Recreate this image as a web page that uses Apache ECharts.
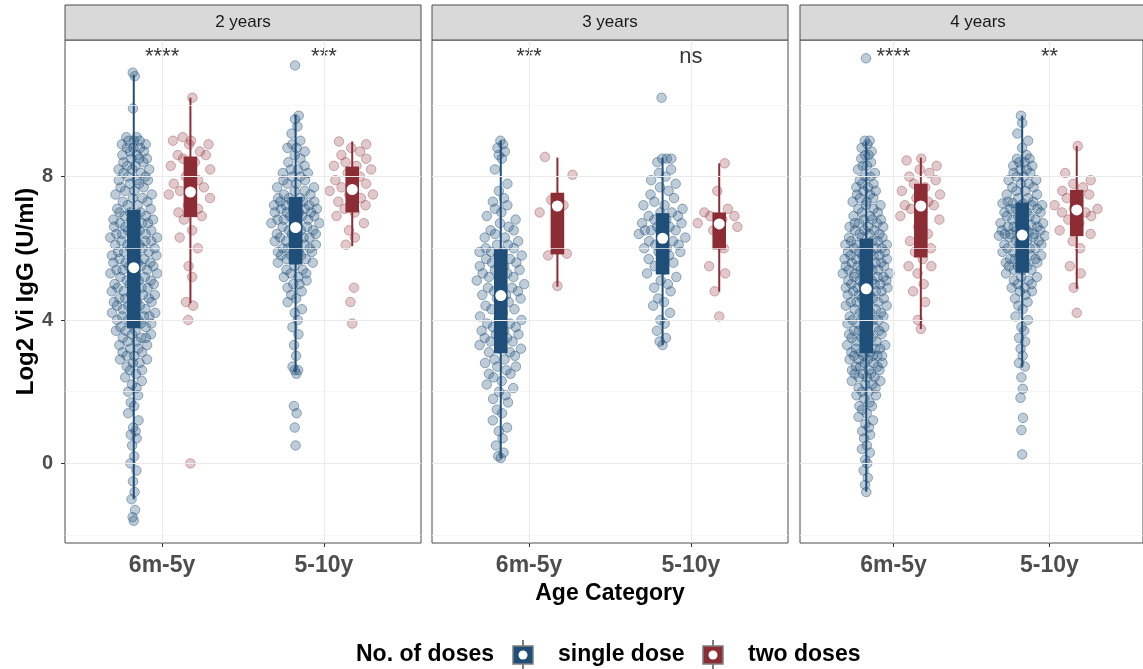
<!DOCTYPE html>
<html>
<head>
<meta charset="utf-8">
<script src="https://cdn.jsdelivr.net/npm/echarts@6/dist/echarts.min.js"></script>
<style>
html, body { margin: 0; padding: 0; background: #fff; }
#chart { width: 1143px; height: 669px; }
</style>
</head>
<body>
<div id="chart"></div>
<script>
// facets, categories, labels
var facets = ['2 years', '3 years', '4 years'];
var ageCats = ['6m-5y', '5-10y'];
var doseGroups = ['single dose', 'two doses'];
var sigLabels = [['****', '***'], ['***', 'ns'], ['****', '**']];
var yTicks = [0, 4, 8];

// Log2 Vi IgG values (one list per facet / age / dose)
var y2YoungSingle = [
  -1.6,-1.5,-1.3,-1.0,-0.8,-0.5,-0.2,0.0,0.2,0.5,0.7,0.8,0.9,1.0,1.2,1.4,1.6,1.7,1.9,2.0,
  2.1,2.2,2.3,2.4,2.5,2.6,2.6,2.7,2.8,2.8,2.9,2.9,3.0,3.0,3.1,3.1,3.2,3.2,3.3,3.3,
  3.4,3.4,3.5,3.5,3.5,3.6,3.6,3.7,3.7,3.7,
  3.8,3.8,3.9,3.9,3.9,4.0,4.0,4.0,4.1,4.1,4.1,4.2,4.2,4.2,4.3,4.3,4.3,4.4,4.4,4.4,
  4.5,4.5,4.5,4.6,4.6,4.6,4.7,4.7,4.7,4.8,4.8,4.8,4.9,4.9,4.9,5.0,5.0,5.0,5.1,5.1,
  5.1,5.2,5.2,5.2,5.3,5.3,5.3,5.4,5.4,5.4,
  5.5,5.5,5.5,5.6,5.6,5.6,5.6,5.7,5.7,5.7,5.8,5.8,5.8,5.9,5.9,5.9,6.0,6.0,6.0,6.1,
  6.1,6.1,6.2,6.2,6.2,6.3,6.3,6.3,6.3,6.4,6.4,6.4,6.5,6.5,6.5,6.6,6.6,6.6,6.7,6.7,
  6.7,6.8,6.8,6.8,6.9,6.9,6.9,7.0,7.0,7.0,
  7.1,7.1,7.2,7.2,7.3,7.3,7.4,7.4,7.5,7.5,7.6,7.6,7.7,7.7,7.8,7.8,7.9,7.9,8.0,8.0,
  8.1,8.1,8.2,8.2,8.3,8.3,8.4,8.4,8.5,8.5,8.6,8.6,8.7,8.7,8.8,8.8,8.9,8.9,9.0,9.0,
  9.1,9.1,9.0,8.8,8.5,8.2,7.9,9.9,10.8,10.9
];
var y2YoungTwo = [10.2,9.1,9.0,9.0,8.9,8.9,8.7,8.6,8.6,8.5,8.4,8.3,8.2,8.0,7.9,7.8,7.7,7.6,7.5,7.5,
  7.4,7.2,7.1,7.0,6.9,6.8,6.5,6.3,6.0,5.5,5.2,4.5,4.4,4.0,0.0];
var y2OldSingle = [
  0.5,1.0,1.4,1.6,2.5,2.6,2.6,2.7,3.0,3.3,3.6,3.8,4.0,4.2,4.3,4.5,4.6,4.7,4.8,4.9,
  5.0,5.0,5.1,5.2,5.2,5.3,5.3,5.4,5.4,5.5,
  5.6,5.6,5.7,5.7,5.7,5.8,5.8,5.8,5.9,5.9,5.9,6.0,6.0,6.0,6.1,6.1,6.1,6.2,6.2,6.2,
  6.3,6.3,6.3,6.4,6.4,6.4,6.5,6.5,6.5,6.6,
  6.6,6.6,6.7,6.7,6.7,6.8,6.8,6.8,6.9,6.9,6.9,7.0,7.0,7.0,7.0,7.1,7.1,7.1,7.1,7.2,
  7.2,7.2,7.2,7.3,7.3,7.3,7.3,7.4,7.4,7.4,
  7.5,7.5,7.6,7.6,7.7,7.7,7.8,7.8,7.9,7.9,8.0,8.0,8.1,8.1,8.2,8.2,8.3,8.4,8.5,8.6,
  8.7,8.8,8.8,8.9,9.0,9.2,9.4,9.6,9.7,11.1
];
var y2OldTwo = [8.98,8.9,8.8,8.7,8.6,8.5,8.4,8.3,8.3,8.2,8.1,8.0,7.9,7.8,7.7,7.7,7.6,7.5,7.5,7.4,
  7.3,7.2,7.1,7.0,6.9,6.7,6.5,6.3,6.1,4.9,4.5,3.9];

var y3YoungSingle = [
  0.15,0.2,0.3,0.5,0.7,0.9,1.0,1.2,1.4,1.5,1.7,1.8,1.9,2.0,2.1,2.2,2.3,2.4,2.5,2.5,
  2.6,2.7,2.7,2.8,2.9,2.9,3.0,
  3.1,3.1,3.2,3.2,3.3,3.3,3.4,3.4,3.5,3.5,3.6,3.6,3.7,3.7,3.8,3.8,3.9,3.9,4.0,4.0,
  4.1,4.2,4.3,4.3,4.4,4.5,4.6,4.6,
  4.7,4.7,4.8,4.8,4.9,4.9,5.0,5.0,5.1,5.1,5.2,5.2,5.3,5.3,5.4,5.4,5.5,5.5,5.6,5.6,
  5.7,5.7,5.8,5.8,5.9,5.9,5.9,6.0,
  6.0,6.1,6.1,6.2,6.3,6.3,6.4,6.5,6.5,6.6,6.7,6.8,6.9,7.0,7.1,7.2,7.3,7.4,7.6,7.8,
  8.2,8.5,8.6,8.7,8.8,8.9,9.0
];
var y3YoungTwo = [8.55,8.05,7.35,7.2,7.0,5.85,5.8,4.95];
var y3OldSingle = [
  3.3,3.4,3.5,3.7,3.9,4.0,4.2,4.4,4.5,4.6,4.8,4.9,5.0,5.1,5.2,5.3,
  5.4,5.5,5.6,5.7,5.8,5.9,5.9,6.0,6.0,6.1,6.1,6.2,6.2,6.3,6.3,6.4,
  6.4,6.5,6.5,6.5,6.6,6.6,6.7,6.7,6.8,6.8,6.9,6.9,7.0,7.0,7.1,7.2,
  7.2,7.3,7.4,7.5,7.6,7.7,7.8,7.9,8.0,8.1,8.2,8.4,8.5,8.5,8.5,10.2
];
var y3OldTwo = [8.37,7.6,7.1,7.0,6.9,6.9,6.8,6.7,6.6,6.5,6.0,5.5,5.3,4.8,4.1];

var y4YoungSingle = [
  -0.8,-0.6,-0.4,-0.2,0.0,0.1,0.3,0.4,0.5,0.7,0.8,0.9,1.0,1.1,1.2,1.3,1.4,1.5,1.6,1.6,
  1.7,1.8,1.9,1.9,2.0,2.0,2.1,2.1,2.2,2.2,2.3,2.3,2.4,2.4,2.4,2.5,2.5,2.5,2.6,2.6,
  2.6,2.7,2.7,2.7,2.8,2.8,2.8,2.9,2.9,2.9,3.0,3.0,3.0,3.0,3.0,
  3.1,3.1,3.1,3.2,3.2,3.2,3.3,3.3,3.3,3.4,3.4,3.4,3.5,3.5,3.5,3.6,3.6,3.6,3.7,3.7,
  3.7,3.8,3.8,3.8,3.9,3.9,3.9,4.0,4.0,4.0,4.1,4.1,4.1,4.2,4.2,4.2,4.3,4.3,4.3,4.4,
  4.4,4.4,4.5,4.5,4.5,4.6,4.6,4.6,4.7,4.7,4.7,4.8,4.8,4.8,4.85,
  4.9,4.9,4.9,4.9,5.0,5.0,5.0,5.0,5.1,5.1,5.1,5.1,5.2,5.2,5.2,5.2,5.3,5.3,5.3,5.3,
  5.4,5.4,5.4,5.4,5.5,5.5,5.5,5.5,5.6,5.6,5.6,5.6,5.7,5.7,5.7,5.7,5.8,5.8,5.8,5.8,
  5.9,5.9,5.9,5.9,6.0,6.0,6.0,6.0,6.1,6.1,6.1,6.1,6.2,6.2,6.2,
  6.3,6.3,6.3,6.4,6.4,6.4,6.5,6.5,6.5,6.6,6.6,6.6,6.7,6.7,6.7,6.8,6.8,6.8,6.9,6.9,
  7.0,7.0,7.1,7.1,7.2,7.2,7.3,7.3,7.4,7.4,7.5,7.5,7.6,7.6,7.7,7.7,7.8,7.8,7.9,8.0,
  8.0,8.1,8.2,8.3,8.3,8.4,8.5,8.6,8.6,8.7,8.8,8.9,9.0,9.0,11.3
];
var y4YoungTwo = [8.5,8.45,8.3,8.2,8.1,8.0,7.9,7.8,7.7,7.6,7.5,7.4,7.3,7.2,7.2,7.1,7.0,6.9,6.8,6.6,
  6.4,6.2,6.0,5.9,5.7,5.5,5.5,5.3,5.0,4.8,4.5,4.0,3.75];
var y4OldSingle = [
  0.25,0.93,1.27,1.83,2.08,2.4,2.7,2.8,3.0,3.2,3.4,3.5,3.7,3.8,4.0,4.1,4.3,4.4,4.5,4.6,
  4.7,4.8,4.8,4.9,4.9,5.0,5.0,5.1,5.1,5.2,5.2,5.3,
  5.4,5.4,5.4,5.5,5.5,5.5,5.6,5.6,5.6,5.7,5.7,5.7,5.8,5.8,5.8,5.9,5.9,5.9,6.0,6.0,
  6.0,6.1,6.1,6.1,6.2,6.2,6.2,6.3,6.3,6.3,6.35,6.35,6.36,
  6.4,6.4,6.4,6.5,6.5,6.5,6.6,6.6,6.6,6.7,6.7,6.7,6.8,6.8,6.8,6.9,6.9,6.9,7.0,7.0,
  7.0,7.1,7.1,7.1,7.2,7.2,7.2,7.25,7.25,7.26,6.45,6.55,6.65,
  7.3,7.3,7.4,7.4,7.5,7.5,7.6,7.6,7.7,7.7,7.8,7.8,7.9,7.9,8.0,8.0,8.1,8.1,8.2,8.2,
  8.3,8.3,8.4,8.4,8.5,8.5,8.6,8.8,9.0,9.2,9.5,9.7
];
var y4OldTwo = [8.85,8.1,7.9,7.8,7.7,7.6,7.5,7.4,7.3,7.2,7.1,7.1,7.0,7.0,6.9,6.8,6.7,6.5,6.4,6.2,
  6.0,5.5,5.3,4.9,4.2];

// box statistics per group, order: [6m-5y single, 6m-5y two, 5-10y single, 5-10y two] per facet
var whiskerLow  = [-1.0, 4.47, 2.54, 6.06,   0.14, 4.93, 3.3, 4.79,   -0.79, 3.75, 2.68, 4.87];
var boxQ1       = [3.77, 6.87, 5.55, 7.0,    3.07, 5.83, 5.27, 5.97,  3.07, 5.74, 5.32, 6.34];
var boxMedian   = [5.46, 7.57, 6.58, 7.64,   4.68, 7.18, 6.28, 6.68,  4.87, 7.18, 6.37, 7.07];
var boxQ3       = [7.07, 8.56, 7.43, 8.28,   5.97, 7.55, 6.98, 7.0,   6.27, 7.8, 7.27, 7.63];
var whiskerHigh = [10.84, 10.2, 9.72, 8.98,  9.0, 8.53, 8.53, 8.37,   8.98, 8.53, 9.7, 8.85];

var groupValues = [
  [y2YoungSingle, y2YoungTwo, y2OldSingle, y2OldTwo],
  [y3YoungSingle, y3YoungTwo, y3OldSingle, y3OldTwo],
  [y4YoungSingle, y4YoungTwo, y4OldSingle, y4OldTwo]
];

var FONT = "'Liberation Sans', Arial, sans-serif";
var doseColors = ['#1f4e79', '#8c2d35'];
var pointFill = ['rgba(31,78,121,0.36)', 'rgba(140,45,53,0.32)'];
var pointEdge = ['rgba(31,78,121,0.55)', 'rgba(140,45,53,0.45)'];
var panelLeft = [65, 432, 800];
var panelW = 356, panelTop = 40, panelH = 503;
var dodge = 0.175, jitterHalf = 0.152;

// quasirandom (van der Corput) horizontal spread scaled by local density
function vdc(n) {
  var v = 0, d = 0.5;
  while (n > 0) { v += (n % 2) * d; n = Math.floor(n / 2); d /= 2; }
  return v;
}
function quasiOffsets(vals, half, bw) {
  var dens = vals.map(function (v) {
    return vals.reduce(function (s, u) { return s + Math.exp(-0.5 * Math.pow((v - u) / bw, 2)); }, 0);
  });
  var maxD = Math.max.apply(null, dens);
  var order = vals.map(function (v, i) { return i; }).sort(function (a, b) { return vals[a] - vals[b]; });
  var off = new Array(vals.length);
  order.forEach(function (idx, rank) {
    off[idx] = (vdc(rank + 1) * 2 - 1) * half * dens[idx] / maxD;
  });
  return off;
}

var grids = [], xAxes = [], yAxes = [], series = [];

facets.forEach(function (f, fi) {
  grids.push({
    left: panelLeft[fi], top: panelTop, width: panelW, height: panelH,
    show: true, borderColor: '#4d4d4d', borderWidth: 1, backgroundColor: '#fff'
  });
  xAxes.push({
    gridIndex: fi, type: 'value', min: 0.4, max: 2.6,
    name: fi === 1 ? 'Age Category' : '', nameLocation: 'middle', nameGap: 38,
    nameTextStyle: { fontSize: 23, fontWeight: 'bold', color: '#000', fontFamily: FONT },
    axisLine: { show: false, onZero: false },
    splitLine: { show: false },
    axisTick: { show: true, customValues: [1, 2], length: 4, lineStyle: { color: '#333', width: 1 } },
    axisLabel: {
      customValues: [1, 2], margin: 11,
      formatter: function (v) { return ageCats[Math.round(v) - 1]; },
      fontSize: 23, fontWeight: 'bold', color: '#4d4d4d', fontFamily: FONT
    }
  });
  yAxes.push({
    gridIndex: fi, type: 'value', min: -2.22, max: 11.81,
    name: fi === 0 ? 'Log2 Vi IgG (U/ml)' : '', nameLocation: 'middle', nameGap: 25, nameRotate: 90,
    nameTextStyle: { fontSize: 24, fontWeight: 'bold', color: '#000', fontFamily: FONT },
    axisLine: { show: false, onZero: false },
    splitLine: { show: false },
    axisTick: { show: fi === 0, customValues: yTicks, length: 4, lineStyle: { color: '#333', width: 1 } },
    axisLabel: {
      show: fi === 0, customValues: yTicks, margin: 12,
      fontSize: 20, fontWeight: 'bold', color: '#4d4d4d', fontFamily: FONT
    }
  });

  // grid lines
  var major = { color: '#ebebeb', width: 1.1, type: 'solid' };
  var minor = { color: '#f3f3f3', width: 0.7, type: 'solid' };
  series.push({
    type: 'scatter', xAxisIndex: fi, yAxisIndex: fi, z: 1, silent: true,
    symbolSize: 0, data: [[1.5, 5]],
    markLine: {
      silent: true, symbol: ['none', 'none'], label: { show: false }, animation: false,
      data: [
        { yAxis: -2, lineStyle: minor }, { yAxis: 2, lineStyle: minor },
        { yAxis: 6, lineStyle: minor }, { yAxis: 10, lineStyle: minor },
        { yAxis: 0, lineStyle: major }, { yAxis: 4, lineStyle: major },
        { yAxis: 8, lineStyle: major },
        { xAxis: 1, lineStyle: major }, { xAxis: 2, lineStyle: major }
      ]
    }
  });

  var boxRows = [];
  groupValues[fi].forEach(function (vals, gi) {
    var age = Math.floor(gi / 2), dose = gi % 2;
    var center = age + 1 + (dose === 0 ? -dodge : dodge);
    var off = quasiOffsets(vals, jitterHalf, 0.7);
    series.push({
      type: 'scatter', name: doseGroups[dose], xAxisIndex: fi, yAxisIndex: fi, z: 2, silent: true,
      symbolSize: 9.5,
      itemStyle: { color: pointFill[dose], borderColor: pointEdge[dose], borderWidth: 1 },
      data: vals.map(function (v, k) { return [center + off[k], v]; })
    });
    var bi = fi * 4 + gi;
    boxRows.push([center, whiskerLow[bi], boxQ1[bi], boxMedian[bi], boxQ3[bi], whiskerHigh[bi], dose]);
  });

  series.push({
    type: 'custom', xAxisIndex: fi, yAxisIndex: fi, z: 3, silent: true,
    encode: { x: 0, y: [1, 2, 3, 4, 5] },
    data: boxRows,
    renderItem: function (params, api) {
      var x = api.value(0);
      var pLow = api.coord([x, api.value(1)]);
      var pQ1 = api.coord([x, api.value(2)]);
      var pMed = api.coord([x, api.value(3)]);
      var pQ3 = api.coord([x, api.value(4)]);
      var pHigh = api.coord([x, api.value(5)]);
      var col = doseColors[api.value(6)];
      var hw = 6.8;
      return {
        type: 'group', children: [
          { type: 'line', shape: { x1: pLow[0], y1: pLow[1], x2: pHigh[0], y2: pHigh[1] }, style: { stroke: col, lineWidth: 2 } },
          { type: 'rect', shape: { x: pQ3[0] - hw, y: pQ3[1], width: hw * 2, height: pQ1[1] - pQ3[1] }, style: { fill: col } },
          { type: 'circle', shape: { cx: pMed[0], cy: pMed[1], r: 5.5 }, style: { fill: '#fff' } }
        ]
      };
    }
  });

  // significance labels
  series.push({
    type: 'scatter', xAxisIndex: fi, yAxisIndex: fi, z: 4, silent: true,
    symbolSize: 1, itemStyle: { color: 'rgba(0,0,0,0)' },
    data: [[1, 11.34, sigLabels[fi][0]], [2, 11.34, sigLabels[fi][1]]],
    label: {
      show: true, position: 'inside', color: '#000', fontSize: 22, fontFamily: FONT,
      formatter: function (p) { return p.value[2]; }
    }
  });
});

// facet strips and legend
var graphics = [];
facets.forEach(function (f, fi) {
  graphics.push({
    type: 'rect', shape: { x: panelLeft[fi], y: 5, width: panelW, height: 35 },
    style: { fill: '#d9d9d9', stroke: '#4d4d4d', lineWidth: 1 }, z: 10
  });
  graphics.push({
    type: 'text', x: panelLeft[fi] + panelW / 2, y: 22.5, z: 11,
    style: { text: f, fill: '#1a1a1a', fontSize: 17, fontFamily: FONT, align: 'center', verticalAlign: 'middle' }
  });
});

graphics.push({
  type: 'text', x: 356, y: 655, z: 11,
  style: { text: 'No. of doses', fill: '#000', fontSize: 23, fontWeight: 'bold', fontFamily: FONT, align: 'left', verticalAlign: 'middle' }
});
var keyX = [513, 703], labelX = [558, 748];
doseGroups.forEach(function (d, di) {
  var kx = keyX[di];
  graphics.push({ type: 'line', shape: { x1: kx + 10, y1: 640, x2: kx + 10, y2: 670 }, style: { stroke: '#555', lineWidth: 1.5 }, z: 10 });
  graphics.push({ type: 'rect', shape: { x: kx, y: 646, width: 20, height: 18 }, style: { fill: doseColors[di], stroke: '#7f7f7f', lineWidth: 1.5 }, z: 11 });
  graphics.push({ type: 'circle', shape: { cx: kx + 10, cy: 655, r: 4.5 }, style: { fill: '#fff' }, z: 12 });
  graphics.push({
    type: 'text', x: labelX[di], y: 655, z: 11,
    style: { text: d, fill: '#000', fontSize: 23, fontWeight: 'bold', fontFamily: FONT, align: 'left', verticalAlign: 'middle' }
  });
});

var chart = echarts.init(document.getElementById('chart'));
chart.setOption({
  backgroundColor: '#fff',
  animation: false,
  textStyle: { fontFamily: FONT },
  grid: grids,
  xAxis: xAxes,
  yAxis: yAxes,
  series: series,
  graphic: graphics
});
</script>
</body>
</html>
